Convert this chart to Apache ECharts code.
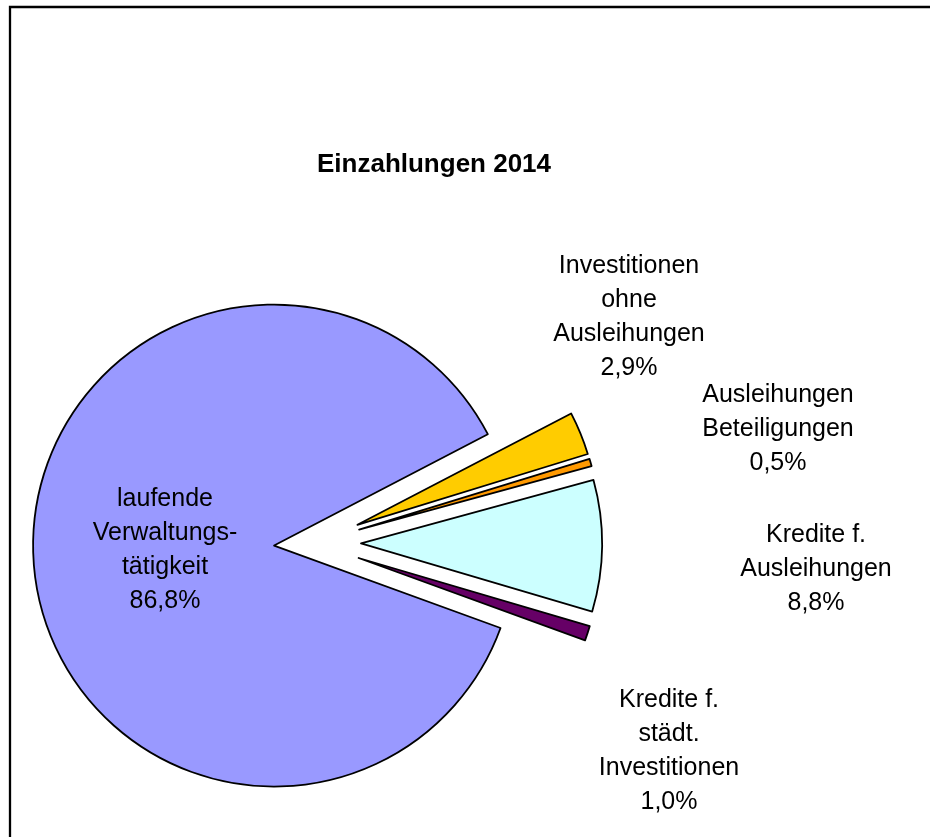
<!DOCTYPE html>
<html>
<head>
<meta charset="utf-8">
<title>Einzahlungen 2014</title>
<script src="https://cdn.jsdelivr.net/npm/echarts@6/dist/echarts.min.js"></script>
<style>
  html, body { margin: 0; padding: 0; background: #fff; }
  #chart { width: 930px; height: 837px; }
</style>
</head>
<body>
<div id="chart"></div>
<script>
// data
const categories = [
  'laufende\nVerwaltungs-\ntätigkeit',
  'Investitionen\nohne\nAusleihungen',
  'Ausleihungen\nBeteiligungen',
  'Kredite f.\nAusleihungen',
  'Kredite f.\nstädt.\nInvestitionen'
]
const shares = [86.8, 2.9, 0.5, 8.8, 1.0]
const colors = ['#9999FF', '#FFCC00', '#FF9900', '#CCFFFF', '#660066']

// where each label block sits (centre of block)
const labelPos = [[165, 550], [629, 317], [778, 429], [816, 569], [669, 751]]

const FONT = '"Liberation Sans", Arial, sans-serif'
const chart = echarts.init(document.getElementById('chart'))

const fmt = v => v.toFixed(1).replace('.', ',') + '%'

// big slice is pulled out a bit less than the small ones
const buildData = (visible) => categories.map((name, i) => {
  const show = visible(i)
  return {
    name,
    value: shares[i],
    selected: show,
    itemStyle: show
      ? { color: colors[i], borderColor: '#000', borderWidth: 1.8 }
      : { color: 'rgba(0,0,0,0)', borderWidth: 0 }
  }
})

const pieBase = {
  type: 'pie',
  center: [313, 543],
  radius: 241,
  startAngle: 340,
  clockwise: true,
  selectedMode: 'multiple',
  silent: true,
  emphasis: { disabled: true },
  label: { show: false },
  labelLine: { show: false }
}

// Excel-style labels: name + percentage, placed beside the slices
const labels = categories.map((name, i) => ({
  type: 'text',
  z: 100,
  x: labelPos[i][0],
  y: labelPos[i][1],
  style: {
    text: name + '\n' + fmt(shares[i]),
    font: '25px ' + FONT,
    lineHeight: 34,
    fill: '#000',
    align: 'center',
    verticalAlign: 'middle'
  }
}))

const option = {
  animation: false,
  title: {
    text: 'Einzahlungen 2014',
    left: 429,
    top: 147,
    textAlign: 'center',
    textStyle: { fontFamily: FONT, fontSize: 26, fontWeight: 'bold', color: '#000' }
  },
  graphic: [{
    type: 'polyline',
    shape: { points: [[10, 900], [10, 7], [940, 7]] },
    style: { stroke: '#000', lineWidth: 2.3, fill: null }
  }].concat(labels),
  series: [
    Object.assign({}, pieBase, { name: 'main', selectedOffset: 39, data: buildData(i => i === 0) }),
    Object.assign({}, pieBase, { name: 'rest', selectedOffset: 48, data: buildData(i => i !== 0) })
  ]
}

chart.setOption(option)
window.addEventListener('resize', () => chart.resize())
</script>
</body>
</html>
